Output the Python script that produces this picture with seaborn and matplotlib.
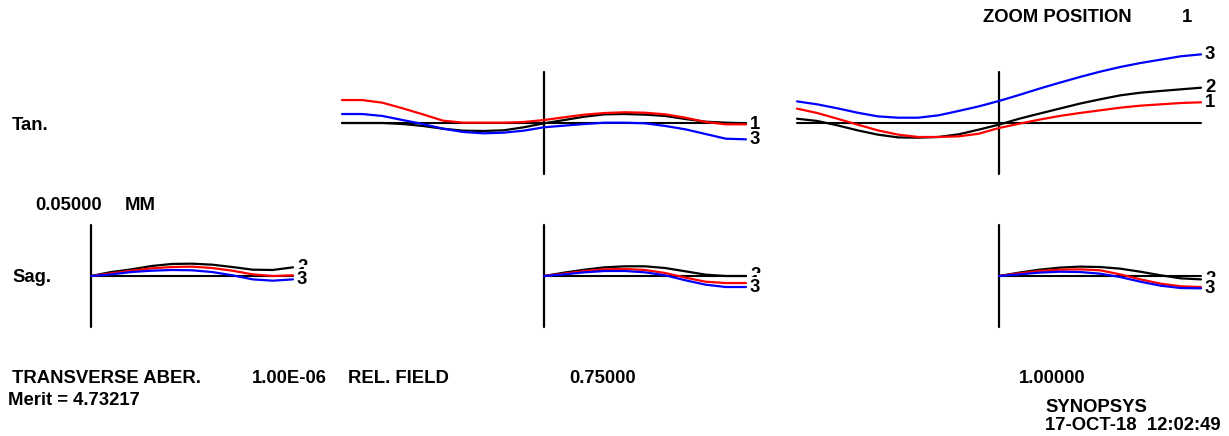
import numpy as np
import pandas as pd
import matplotlib
matplotlib.use("Agg")
import matplotlib.pyplot as plt
import seaborn as sns

# ---------------- data (transverse aberration, mm) ----------------
pupil_full = [-1.0, -0.9, -0.8, -0.7, -0.6, -0.5, -0.4, -0.3, -0.2, -0.1, 0.0,
              0.1, 0.2, 0.3, 0.4, 0.5, 0.6, 0.7, 0.8, 0.9, 1.0]
pupil_half = [0.0, 0.1, 0.2, 0.3, 0.4, 0.5, 0.6, 0.7, 0.8, 0.9, 1.0]

# Tangential, relative field 0.75
tan075_w1 = [0.0225, 0.0225, 0.0199, 0.0144, 0.0085, 0.0023, 0.0003, 0.0003, 0.0003, 0.0010, 0.0029,
             0.0056, 0.0082, 0.0098, 0.0105, 0.0101, 0.0085, 0.0052, 0.0010, -0.0013, -0.0013]
tan075_w2 = [0.0, 0.0, 0.0, -0.0010, -0.0029, -0.0056, -0.0075, -0.0078, -0.0072, -0.0042, -0.0003,
             0.0029, 0.0062, 0.0085, 0.0088, 0.0082, 0.0069, 0.0039, 0.0013, 0.0003, -0.0003]
tan075_w3 = [0.0088, 0.0088, 0.0069, 0.0029, -0.0010, -0.0056, -0.0088, -0.0101, -0.0095, -0.0075, -0.0042,
             -0.0026, -0.0010, 0.0003, 0.0003, -0.0003, -0.0029, -0.0062, -0.0108, -0.0154, -0.0160]

# Tangential, relative field 1.0
tan100_w1 = [0.0141, 0.0098, 0.0042, -0.0016, -0.0072, -0.0114, -0.0137, -0.0137, -0.0131, -0.0105, -0.0049,
             -0.0007, 0.0033, 0.0069, 0.0098, 0.0124, 0.0150, 0.0170, 0.0183, 0.0196, 0.0203]
tan100_w2 = [0.0042, 0.0020, -0.0023, -0.0072, -0.0114, -0.0141, -0.0144, -0.0137, -0.0111, -0.0065, -0.0016,
             0.0042, 0.0092, 0.0141, 0.0190, 0.0232, 0.0271, 0.0297, 0.0314, 0.0330, 0.0346]
tan100_w3 = [0.0212, 0.0183, 0.0144, 0.0101, 0.0065, 0.0052, 0.0052, 0.0075, 0.0118, 0.0163, 0.0216,
             0.0275, 0.0337, 0.0395, 0.0451, 0.0503, 0.0549, 0.0588, 0.0621, 0.0654, 0.0673]

# Sagittal (half pupil), relative fields 0, 0.75, 1.0
sag000_w1 = [0.0, 0.0026, 0.0052, 0.0075, 0.0088, 0.0092, 0.0078, 0.0052, 0.0016, 0.0, 0.0007]
sag000_w2 = [0.0, 0.0039, 0.0065, 0.0098, 0.0118, 0.0121, 0.0111, 0.0088, 0.0062, 0.0059, 0.0085]
sag000_w3 = [0.0, 0.0016, 0.0039, 0.0052, 0.0059, 0.0056, 0.0039, 0.0007, -0.0033, -0.0046, -0.0033]

sag075_w1 = [0.0, 0.0023, 0.0049, 0.0065, 0.0069, 0.0059, 0.0029, -0.0016, -0.0056, -0.0069, -0.0069]
sag075_w2 = [0.0, 0.0033, 0.0062, 0.0085, 0.0095, 0.0095, 0.0078, 0.0046, 0.0013, 0.0, 0.0]
sag075_w3 = [0.0, 0.0016, 0.0036, 0.0049, 0.0049, 0.0036, 0.0007, -0.0042, -0.0085, -0.0108, -0.0108]

sag100_w1 = [0.0, 0.0026, 0.0049, 0.0062, 0.0065, 0.0056, 0.0016, -0.0033, -0.0075, -0.0101, -0.0108]
sag100_w2 = [0.0, 0.0033, 0.0062, 0.0082, 0.0092, 0.0088, 0.0072, 0.0042, 0.0007, -0.0023, -0.0033]
sag100_w3 = [0.0, 0.0016, 0.0033, 0.0042, 0.0039, 0.0023, -0.0010, -0.0056, -0.0095, -0.0118, -0.0121]

wave_labels = ["1", "2", "3"]
wave_colors = {"1": "#ff0000", "2": "#000000", "3": "#0000ff"}
draw_order = ["2", "1", "3"]

field_labels = ["0.75000", "1.00000"]
scale_label = "0.05000"
scale_mm = 0.05

# ---------------- figure ----------------
W, H = 1229, 436
sns.set_theme(style="white")
plt.rcParams["font.family"] = ["Liberation Sans", "DejaVu Sans"]
plt.rcParams["font.weight"] = "bold"

fig = plt.figure(figsize=(W / 100, H / 100), dpi=100)
fig.patch.set_facecolor("white")

HALF_W, HALF_H = 202, 51
FS = 13.3


def make_ax(cx, cy):
    ax = fig.add_axes([(cx - HALF_W) / W, (H - (cy + HALF_H)) / H,
                       2 * HALF_W / W, 2 * HALF_H / H])
    ax.set_xlim(-1, 1)
    ax.set_ylim(-scale_mm, scale_mm)
    ax.axis("off")
    return ax


def panel(ax, pupil, curves, half):
    x0 = 0.0 if half else -1.0
    ax.plot([x0, 1.0], [0, 0], color="black", lw=1.5, clip_on=False, zorder=1)
    ax.plot([0, 0], [-scale_mm, scale_mm], color="black", lw=1.6, clip_on=False, zorder=1)
    frames = []
    for w, vals in zip(wave_labels, curves):
        frames.append(pd.DataFrame({"pupil": pupil, "aber": vals, "wave": w}))
    df = pd.concat(frames, ignore_index=True)
    sns.lineplot(data=df, x="pupil", y="aber", hue="wave", hue_order=draw_order,
                 palette=wave_colors, estimator=None, sort=False, legend=False,
                 linewidth=1.6, ax=ax)
    for line in ax.lines:
        line.set_clip_on(False)
    ax.set_xlim(-1, 1)
    ax.set_ylim(-scale_mm, scale_mm)
    ax.axis("off")
    ends = {w: vals[-1] for w, vals in zip(wave_labels, curves)}
    for w in draw_order:
        ax.annotate(w, xy=(1.0, ends[w]), xytext=(4, 0), textcoords="offset pixels",
                    ha="left", va="center", fontsize=FS, fontweight="bold", color="black",
                    bbox=dict(boxstyle="square,pad=0.08", fc="white", ec="none"),
                    annotation_clip=False)


panel(make_ax(544, 123), pupil_full, [tan075_w1, tan075_w2, tan075_w3], half=False)
panel(make_ax(999, 123), pupil_full, [tan100_w1, tan100_w2, tan100_w3], half=False)
panel(make_ax(91, 276), pupil_half, [sag000_w1, sag000_w2, sag000_w3], half=True)
panel(make_ax(544, 276), pupil_half, [sag075_w1, sag075_w2, sag075_w3], half=True)
panel(make_ax(999, 276), pupil_half, [sag100_w1, sag100_w2, sag100_w3], half=True)


def txt(x, y, s):
    fig.text(x / W, 1 - y / H, s, ha="left", va="center", fontsize=FS,
             fontweight="bold", color="black")


txt(983, 17, "ZOOM POSITION")
txt(1182, 17, "1")
txt(12, 125, "Tan.")
txt(12, 277, "Sag.")
txt(35, 205, scale_label)
txt(125, 205, "MM")
txt(12, 378, "TRANSVERSE ABER.")
txt(252, 378, "1.00E-06")
txt(348, 378, "REL. FIELD")
txt(569, 378, field_labels[0])
txt(1019, 378, field_labels[1])
txt(8, 400, "Merit = 4.73217")
txt(1045, 407, "SYNOPSYS")
txt(1045, 425, "17-OCT-18  12:02:49")

fig.savefig("out.png", dpi=100, facecolor="white")
